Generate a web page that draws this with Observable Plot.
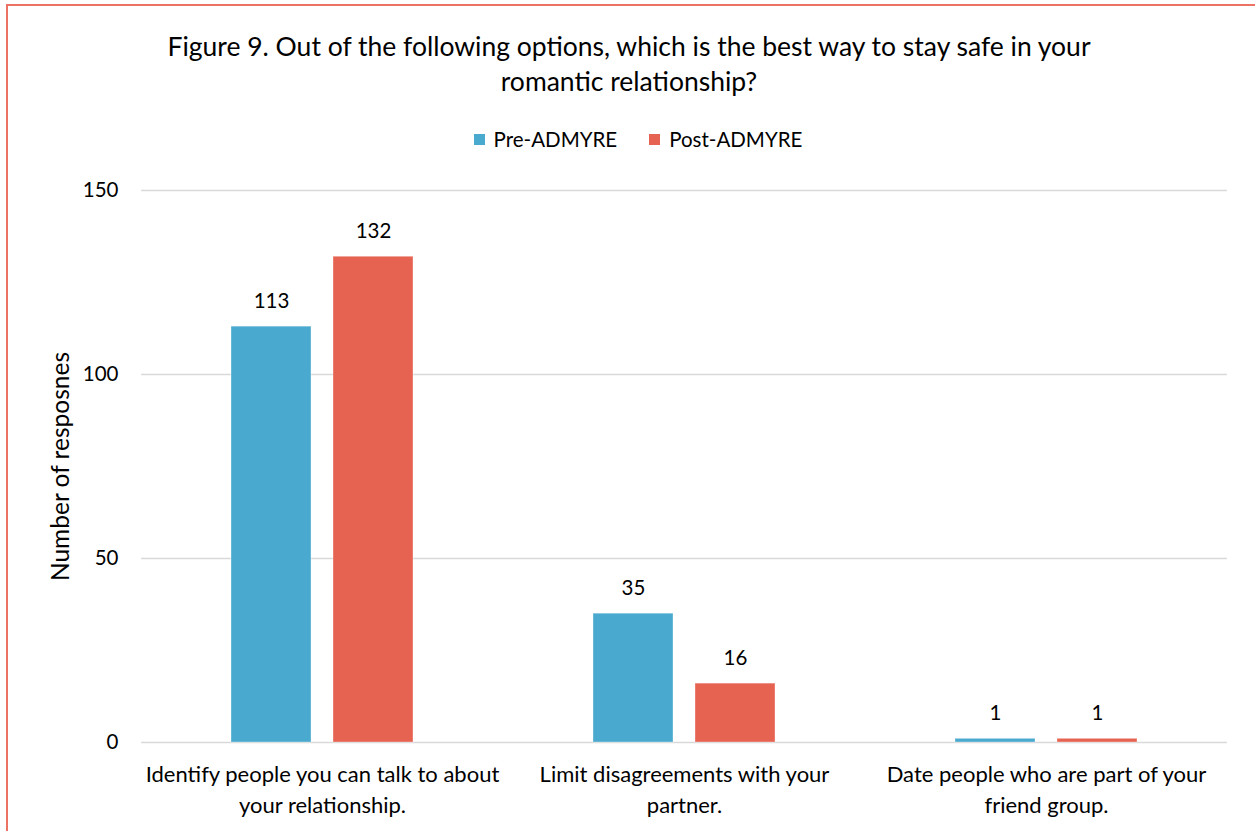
<!DOCTYPE html>
<html>
<head>
<meta charset="utf-8">
<script src="https://cdn.jsdelivr.net/npm/d3@7"></script>
<script src="https://cdn.jsdelivr.net/npm/@observablehq/plot@0.6"></script>
<style>
  html, body { margin: 0; padding: 0; background: #fff; }
  body { width: 1255px; height: 831px; position: relative; overflow: hidden; font-family: Lato, "Open Sans", sans-serif; color: #000; }
  #frame { position: absolute; left: 6px; top: 4px; width: 1270px; height: 850px; border: 2px solid #EC7263; box-sizing: border-box; }
  #title { position: absolute; left: 0; width: 1258px; top: 29px; text-align: center; font-size: 26.5px; line-height: 35px; }
  #legend { position: absolute; left: 4px; width: 1268px; top: 127px; display: flex; justify-content: center; gap: 32px; font-size: 20.5px; line-height: 24px; }
  #legend .item { display: flex; align-items: center; }
  #legend .sw { width: 11px; height: 11px; margin-right: 9px; display: inline-block; }
  #chart { position: absolute; left: 0; top: 170px; }
</style>
</head>
<body>
<div id="frame"></div>
<div id="title">Figure 9. Out of the following options, which is the best way to stay safe in your<br>romantic relationship?</div>
<div id="legend"></div>
<div id="chart"></div>
<script>
// Answer options, and their two-line axis labels
const categories = [
  "Identify people you can talk to about your relationship.",
  "Limit disagreements with your partner.",
  "Date people who are part of your friend group."
];
const categoryLabels = [
  "Identify people you can talk to about\nyour relationship.",
  "Limit disagreements with your\npartner.",
  "Date people who are part of your\nfriend group."
];
const series = ["Pre-ADMYRE", "Post-ADMYRE"];
const colors = ["#4AA9CF", "#E66351"];
const preValues = [113, 35, 1];
const postValues = [132, 16, 1];
const yTicks = [0, 50, 100, 150];
const yTitle = "Number of resposnes";

const data = categories.flatMap((c, i) => [
  {category: c, series: series[0], value: preValues[i]},
  {category: c, series: series[1], value: postValues[i]}
]);
const labelOf = new Map(categories.map((c, i) => [c, categoryLabels[i]]));

// Legend
const legend = document.getElementById("legend");
series.forEach((s, i) => {
  const item = document.createElement("span");
  item.className = "item";
  const sw = document.createElement("span");
  sw.className = "sw";
  sw.style.background = colors[i];
  item.appendChild(sw);
  item.appendChild(document.createTextNode(s));
  legend.appendChild(item);
});

const chart = Plot.plot({
  width: 1255,
  height: 661,
  marginLeft: 140,
  marginRight: 27,
  marginTop: 20,
  marginBottom: 89,
  style: {fontFamily: "Lato, 'Open Sans', sans-serif", color: "#000", background: "transparent"},
  fx: {domain: categories, padding: 0, label: null},
  x: {domain: series, paddingInner: 0.2136, paddingOuter: 0.867, axis: null},
  y: {domain: [0, 150], label: null},
  color: {domain: series, range: colors},
  marks: [
    Plot.ruleY(yTicks, {stroke: "#d9d9d9", strokeWidth: 1.5}),
    Plot.barY(data, {fx: "category", x: "series", y: "value", fill: "series", stroke: "#ffffff", strokeOpacity: 0.35, strokeWidth: 1}),
    Plot.text(data, {fx: "category", x: "series", y: "value", text: d => String(d.value), dy: -25, fontSize: 20.5, fill: "#000"}),
    Plot.axisY({ticks: yTicks, tickSize: 0, tickPadding: 23, fontSize: 20.5, label: null}),
    // y-axis title, drawn once in the leftmost facet
    Plot.text([{category: categories[0], t: yTitle}], {fx: "category", text: "t", frameAnchor: "left", textAnchor: "middle", rotate: -90, dx: -80, fontSize: 24.5, fill: "#000"}),
    Plot.axisFx({anchor: "bottom", tickSize: 0, tickPadding: 17, fontSize: 22, lineHeight: 1.41, label: null, tickFormat: c => labelOf.get(c)})
  ]
});
document.getElementById("chart").appendChild(chart);
</script>
</body>
</html>
